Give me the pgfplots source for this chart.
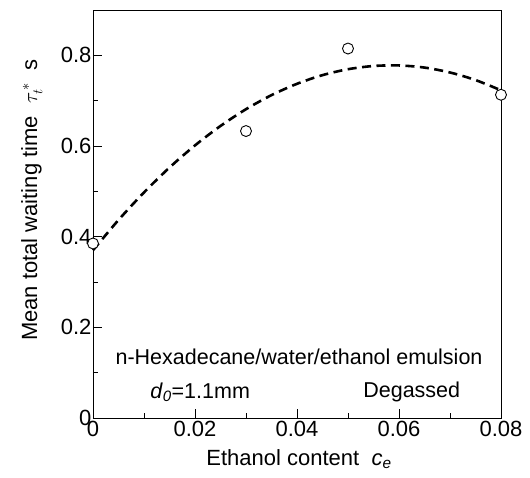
\documentclass[border=0pt]{standalone}
\usepackage{fontspec}
\setmainfont{Liberation Sans}
\usepackage{pgfplots}
\pgfplotsset{compat=1.18}
\begin{document}
\begin{tikzpicture}
\begin{axis}[
  scale only axis,
  width=408pt, height=408pt,
  at={(0,0)}, anchor=south west,
  xmin=0, xmax=0.08, ymin=0, ymax=0.9,
  xtick={0,0.02,0.04,0.06,0.08},
  xticklabels={0,0.02,0.04,0.06,0.08},
  minor xtick={0.01,0.03,0.05,0.07},
  ytick={0,0.2,0.4,0.6,0.8},
  yticklabels={0,0.2,0.4,0.6,0.8},
  minor ytick={0.1,0.3,0.5,0.7},
  scaled x ticks=false, scaled y ticks=false,
  tick pos=left, tick align=inside,
  major tick length=9pt, minor tick length=5pt,
  every tick/.style={black, line width=0.8pt},
  axis line style={line width=0.8pt},
  ticklabel style={font=\fontsize{22}{26}\selectfont},
  xticklabel style={yshift=0pt},
  yticklabel style={xshift=2pt},
  label style={font=\fontsize{22}{26}\selectfont},
  xlabel={Ethanol content~~\textit{c}\textsubscript{\textit{e}}},
  xlabel style={at={(axis description cs:0.505,0)}, anchor=north, yshift=-28pt},
  ylabel={Mean total waiting time~~$\tau^{\,*}_{t}$~~s},
  ylabel style={at={(axis description cs:-0.15,0.534)}, anchor=center},
  clip=false,
]
\addplot[black, line width=2.6pt, dash pattern=on 9pt off 5.5pt, smooth] coordinates {
  (0,0.370) (0.005,0.4368) (0.01,0.4976) (0.015,0.5525) (0.02,0.6013)
  (0.025,0.6442) (0.03,0.6812) (0.035,0.7122) (0.04,0.7372) (0.045,0.7563)
  (0.05,0.7694) (0.055,0.7765) (0.06,0.7777) (0.065,0.7730) (0.07,0.7622)
  (0.075,0.7455) (0.08,0.7229)
};
\addplot[only marks, mark=*, mark size=5.5pt, mark options={fill=white, draw=black, line width=0.9pt}] coordinates {
  (0,0.385) (0.03,0.633) (0.05,0.815) (0.08,0.713)
};
\node[font=\fontsize{21.5}{26}\selectfont] at (axis cs:0.0404,0.135) {n-Hexadecane/water/ethanol emulsion};
\node[font=\fontsize{21.5}{26}\selectfont] at (axis cs:0.021,0.057) {\textit{d}\textsubscript{\textit{0}}=1.1mm};
\node[font=\fontsize{21.5}{26}\selectfont] at (axis cs:0.0625,0.057) {Degassed};
\end{axis}
\pgfresetboundingbox
\path (-93pt,-59pt) rectangle (437pt,418pt);
\end{tikzpicture}
\end{document}
